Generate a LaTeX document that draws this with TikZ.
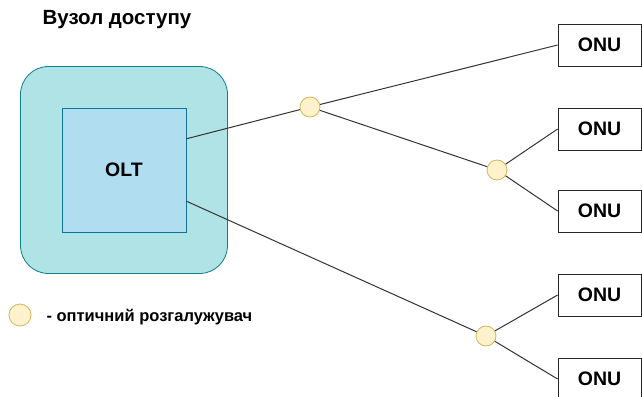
\documentclass[tikz,border=0pt]{standalone}
\usepackage{fontspec}
\setmainfont{Liberation Sans}
\usetikzlibrary{calc}

\definecolor{nodefill}{HTML}{B0E3E6}
\definecolor{nodeline}{HTML}{0E8088}
\definecolor{oltfill}{HTML}{B1DDF0}
\definecolor{oltline}{HTML}{10739E}
\definecolor{splitfill}{HTML}{FFF2CC}
\definecolor{splitline}{HTML}{D6B656}

\tikzset{
  onu/.style={draw=black!85, line width=0.8pt, fill=white, minimum width=83pt,
    minimum height=42pt, inner sep=0pt, font=\fontsize{19.5}{22}\selectfont\bfseries},
  splitter/.style={circle, draw=splitline, line width=0.8pt, fill=splitfill,
    minimum size=20pt, inner sep=0pt},
  fiber/.style={draw=black!80, line width=1pt}
}

\begin{document}
\begin{tikzpicture}[x=1pt, y=-1pt]
    \useasboundingbox (0,0) rectangle (642,396);

    % access node with the OLT inside
    \node[draw=nodeline, line width=0.8pt, fill=nodefill, rounded corners=28pt,
          minimum width=207pt, minimum height=207pt] (node) at (124,170) {};
    \node[draw=oltline, line width=0.8pt, fill=oltfill, minimum width=124pt,
          minimum height=124pt, font=\fontsize{19.5}{22}\selectfont\bfseries] (olt) at (124,170) {OLT};
    \node[font=\fontsize{20.5}{24}\selectfont\bfseries] (title) at (117,20) {Вузол доступу};

    % splitters
    \node[splitter] (s1) at (310,107) {};
    \node[splitter] (s2) at (497,170) {};
    \node[splitter] (s3) at (486,336) {};

    % subscriber units
    \node[onu] (onu1) at (599.5,45) {ONU};
    \node[onu] (onu2) at (599.5,129) {ONU};
    \node[onu] (onu3) at (599.5,211) {ONU};
    \node[onu] (onu4) at (599.5,295) {ONU};
    \node[onu] (onu5) at (599.5,379) {ONU};

    \coordinate (oltA) at ($(olt.north east)!0.25!(olt.south east)$);
    \coordinate (oltB) at ($(olt.north east)!0.75!(olt.south east)$);

    \draw[fiber] (oltA) -- (s1);
    \draw[fiber] (oltB) -- (s3);
    \draw[fiber] (s1) -- (onu1.west);
    \draw[fiber] (s1) -- (s2);
    \draw[fiber] (s2) -- (onu2.west);
    \draw[fiber] (s2) -- (onu3.west);
    \draw[fiber] (s3) -- (onu4.west);
    \draw[fiber] (s3) -- (onu5.west);

    % legend
    \node[splitter, minimum size=22pt] (key) at (20,315) {};
    \node[anchor=west, font=\fontsize{16.5}{19}\selectfont\bfseries] (keytext) at (43,317) {- оптичний розгалужувач};
\end{tikzpicture}
\end{document}
